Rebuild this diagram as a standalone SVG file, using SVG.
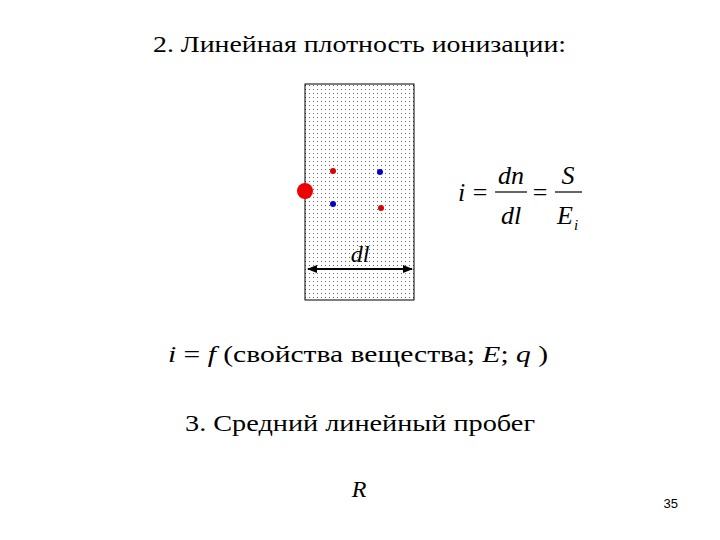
<svg xmlns="http://www.w3.org/2000/svg" width="720" height="540" viewBox="0 0 720 540">
<defs>
<pattern id="dots" width="4" height="4" patternUnits="userSpaceOnUse"><rect width="4" height="4" fill="#fff"/><rect x="1" y="1" width="1" height="1" fill="#666"/></pattern>
<marker id="ah" viewBox="0 0 10 10" refX="9" refY="5" markerWidth="5" markerHeight="5" orient="auto-start-reverse"><path d="M0,1L10,5L0,9z" fill="#000"/></marker>
</defs>
<rect width="720" height="540" fill="#fff"/>
<g font-family="'Liberation Serif', 'Times New Roman', 'DejaVu Serif', 'Noto Serif', serif" fill="#000">
<text x="153" y="52" font-size="24" textLength="413" lengthAdjust="spacingAndGlyphs">2. Линейная плотность ионизации:</text>
<g id="slab">
<rect x="305" y="84" width="109" height="216" fill="url(#dots)" stroke="#000" stroke-width="1"/>
</g>
<g id="particles">
<circle cx="305" cy="191" r="8" fill="#e00"/>
<circle cx="333" cy="171" r="3" fill="#d00"/>
<circle cx="380" cy="172" r="3" fill="#00c"/>
<circle cx="333" cy="204" r="3" fill="#00c"/>
<circle cx="381" cy="208" r="3" fill="#d00"/>
</g>
<g id="connectors">
<line x1="308" y1="269" x2="412" y2="269" stroke="#000" stroke-width="2" marker-start="url(#ah)" marker-end="url(#ah)"/>
</g>
<text x="360" y="262" font-size="24" font-style="italic" text-anchor="middle">dl</text>
<g id="formula" font-size="26">
<text x="458" y="201" font-style="italic">i</text>
<text x="480" y="201" text-anchor="middle">=</text>
<text x="511" y="184" font-style="italic" text-anchor="middle">dn</text>
<line x1="495" y1="192" x2="527" y2="192" stroke="#000" stroke-width="1.2"/>
<text x="511" y="224" font-style="italic" text-anchor="middle">dl</text>
<text x="540" y="201" text-anchor="middle">=</text>
<text x="568" y="184" font-style="italic" text-anchor="middle">S</text>
<line x1="555" y1="192" x2="582" y2="192" stroke="#000" stroke-width="1.2"/>
<text x="557" y="224" font-style="italic">E</text>
<text x="574" y="230" font-size="15" font-style="italic">i</text>
</g>
<text x="168" y="362" font-size="24" textLength="380" lengthAdjust="spacingAndGlyphs"><tspan font-style="italic">i</tspan> = <tspan font-style="italic">f</tspan> (свойства вещества; <tspan font-style="italic">E</tspan>; <tspan font-style="italic">q</tspan> )</text>
<text x="185" y="431" font-size="24" textLength="350" lengthAdjust="spacingAndGlyphs">3. Средний линейный пробег</text>
<text x="359" y="497" font-size="24" font-style="italic" text-anchor="middle">R</text>
</g>
<text x="678" y="508" font-family="'Liberation Sans', Arial, sans-serif" font-size="13" text-anchor="end">35</text>
</svg>
